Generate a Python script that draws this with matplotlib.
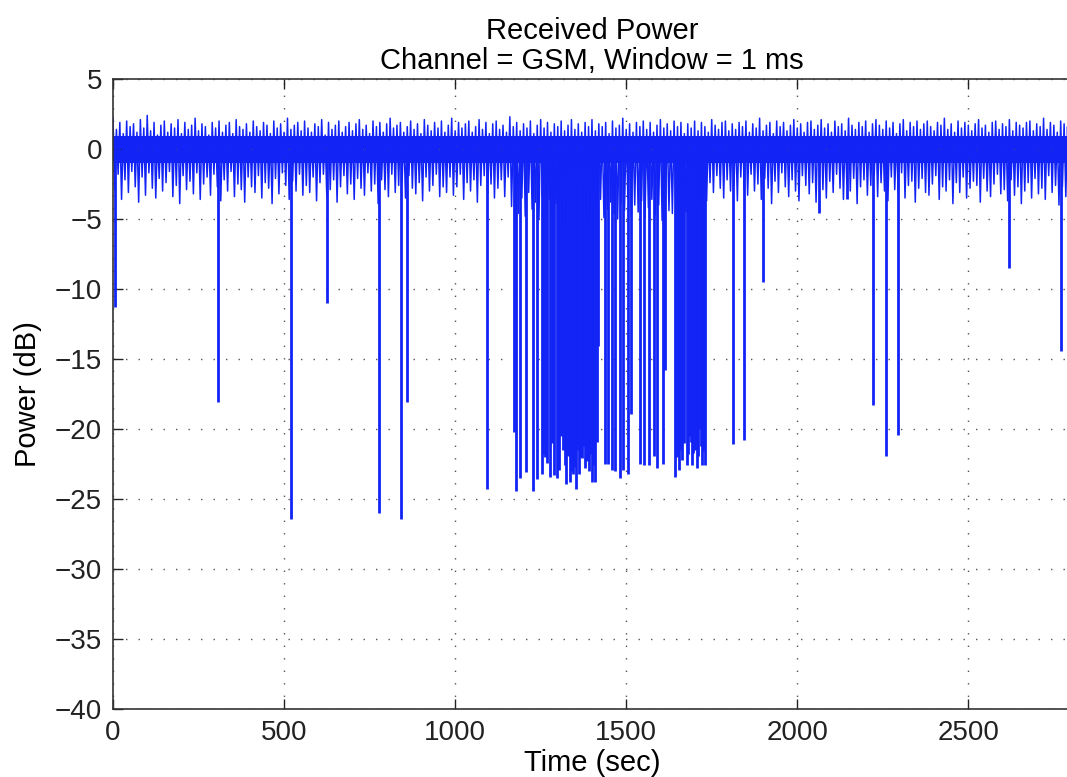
import matplotlib.pyplot as plt
import numpy as np

# -------------------------------
# DATA
# -------------------------------
# noise band: one upward and one downward excursion every 10 s
band_t = np.arange(0, 2800, 10)

band_hi = [
    2.2, 1.4, 1.9, 1.1, 2.0, 1.6, 1.8, 1.2, 2.1, 1.5, 2.4, 1.3, 1.9, 1.0,
    1.7, 2.0, 1.2, 1.8, 1.5, 2.1, 1.1, 1.9, 1.4, 1.7, 2.2, 1.3, 1.8, 1.6,
    1.0, 1.9, 1.5, 2.0, 1.2, 1.7, 1.9, 1.1, 2.1, 1.6, 1.4, 1.8, 1.2, 2.0,
    1.6, 1.3, 1.9, 1.7, 1.1, 2.0, 1.5, 1.8, 1.2, 2.2, 1.4, 1.7, 1.9, 1.3,
    2.0, 1.5, 1.2, 1.8, 1.6, 2.1, 1.0, 1.9, 1.4, 1.7, 2.0, 1.2, 1.6, 1.9,
    1.3, 1.8, 2.1, 1.4, 1.7, 1.1, 2.0, 1.6, 1.9, 1.2, 1.8, 2.2, 1.5, 1.7,
    1.9, 1.2, 1.6, 2.0, 1.4, 1.8, 1.1, 2.1, 1.7, 1.3, 1.9, 1.5, 2.0, 1.2,
    1.7, 2.2, 1.3, 1.9, 1.5, 1.8, 2.0, 1.2, 1.6, 2.1, 1.4, 1.9, 1.1, 1.8,
    2.0, 1.4, 1.7, 1.2, 2.3, 1.6, 1.9, 1.3, 1.8, 1.5, 2.0, 1.1, 1.7, 2.1,
    1.5, 1.9, 1.2, 1.8, 1.6, 2.0, 1.3, 1.7, 2.1, 1.4, 1.8, 1.2, 1.9, 1.6,
    2.1, 1.3, 1.8, 1.6, 1.9, 1.1, 2.0, 1.5, 1.7, 2.2, 1.4, 1.8, 1.2, 1.9,
    1.6, 2.0, 1.4, 1.9, 1.2, 1.7, 2.1, 1.5, 1.8, 1.3, 2.0, 1.6, 1.9, 1.1,
    1.8, 1.5, 2.0, 1.3, 1.9, 1.6, 1.2, 2.1, 1.7, 1.4, 1.9, 2.0, 1.3, 1.8,
    1.4, 1.9, 1.6, 2.0, 1.2, 1.8, 1.5, 2.2, 1.3, 1.7, 1.9, 1.1, 2.0, 1.6,
    1.9, 1.3, 1.7, 2.1, 1.5, 1.8, 1.2, 1.9, 2.0, 1.4, 1.7, 2.1, 1.5, 1.8,
    1.2, 2.0, 1.6, 1.8, 1.3, 2.2, 1.7, 1.4, 1.9, 1.6, 2.0, 1.2, 1.8, 2.1,
    1.7, 1.4, 2.0, 1.5, 1.9, 1.1, 1.8, 2.1, 1.3, 1.9, 1.6, 2.0, 1.4, 1.8,
    2.0, 1.6, 1.3, 1.9, 1.7, 2.2, 1.4, 1.8, 1.2, 2.0, 1.5, 1.9, 1.7, 1.3,
    1.8, 2.1, 1.5, 1.7, 1.2, 1.9, 2.0, 1.4, 1.8, 1.6, 2.1, 1.3, 1.9, 1.7,
    1.5, 1.9, 2.0, 1.3, 1.8, 1.6, 2.2, 1.4, 1.9, 1.7, 1.2, 2.0, 1.8, 1.6,
]

band_lo = [
    -2.9, -1.8, -3.6, -2.2, -3.1, -1.6, -2.7, -3.8, -2.0, -3.3, -1.7, -2.8, -3.5, -2.1,
    -3.0, -2.4, -1.6, -3.4, -2.6, -3.9, -1.9, -2.9, -2.3, -3.2, -1.7, -3.6, -2.5, -2.0,
    -3.3, -1.8, -2.7, -3.7, -2.2, -3.0, -1.6, -3.4, -2.5, -2.9, -3.8, -2.0, -2.7, -3.1,
    -1.9, -3.5, -2.4, -2.8, -3.9, -2.1, -3.2, -1.7, -2.6, -3.6, -2.3, -3.0, -1.8, -3.3,
    -2.6, -3.1, -2.0, -3.7, -2.4, -1.8, -3.4, -2.9, -2.2, -3.8, -2.7, -1.9, -3.2, -2.5,
    -3.6, -2.1, -2.8, -3.3, -1.7, -3.0, -2.5, -3.9, -2.2, -2.9, -3.4, -1.8, -3.1, -2.6,
    -2.3, -3.5, -1.9, -2.8, -3.2, -2.4, -3.7, -2.0, -3.0, -2.6, -1.8, -3.4, -2.7, -3.1,
    -2.0, -3.3, -2.7, -1.8, -3.6, -2.4, -3.0, -2.2, -3.8, -2.6, -1.9, -3.2, -2.5, -3.5,
    -2.8, -2.2, -3.4, -2.0, -4.1, -3.2, -4.6, -3.5, -4.8, -3.1, -4.3, -3.8, -5.0, -3.4,
    -4.5, -3.6, -4.9, -3.9, -4.2, -5.1, -3.7, -4.6, -4.0, -4.8, -3.5, -4.4, -5.0, -3.8,
    -4.7, -4.1, -3.6, -4.9, -4.3, -3.8, -4.6, -5.0, -3.9, -4.4, -3.5, -4.8, -4.0, -4.5,
    -3.7, -4.9, -4.2, -3.6, -4.7, -4.0, -5.1, -3.8, -4.4, -4.6, -3.9, -4.8, -4.1, -4.5,
    -4.3, -3.8, -4.9, -4.0, -4.6, -3.7, -2.4, -3.1, -1.9, -2.8, -3.5, -2.2, -3.0, -2.6,
    -3.7, -2.0, -2.9, -3.3, -1.8, -3.0, -2.5, -3.6, -2.1, -2.8, -3.9, -2.3, -3.1, -1.7,
    -2.7, -3.4, -2.2, -3.0, -3.7, -1.9, -2.6, -3.2, -2.4, -3.8, -2.0, -2.9, -3.5, -2.3,
    -3.1, -1.8, -2.8, -3.6, -2.5, -3.0, -2.1, -3.9, -2.7, -2.2, -3.3, -2.6, -1.9, -3.4,
    -2.4, -3.0, -3.7, -2.0, -2.9, -3.2, -1.7, -3.5, -2.6, -2.3, -3.8, -2.8, -2.1, -3.1,
    -3.3, -2.5, -1.9, -3.6, -2.7, -3.0, -2.2, -3.9, -2.4, -3.1, -2.0, -3.5, -2.8, -2.3,
    -2.6, -3.8, -2.1, -3.0, -3.4, -2.5, -1.8, -3.2, -2.9, -3.7, -2.2, -3.3, -2.7, -3.9,
    -3.0, -2.4, -3.5, -2.1, -3.2, -2.8, -3.6, -1.9, -3.1, -2.6, -4.0, -2.7, -3.4, -2.5,
]

# solid core of the band (dB)
core_lo, core_hi = -1.0, 0.9

# deep fades: time (sec) and depth (dB)
dip_t = [
    5, 307, 521, 626, 778, 842, 860, 1093,
    1172, 1179, 1191, 1207, 1228, 1240, 1253, 1263, 1278, 1290, 1297, 1305,
    1315, 1325, 1336, 1346, 1354, 1361, 1370, 1380, 1390, 1400, 1409, 1419,
    1439, 1448, 1458, 1468, 1482, 1492, 1504, 1514, 1539, 1553, 1568, 1580,
    1590, 1607, 1614, 1643, 1653, 1663, 1670, 1677, 1685, 1692, 1700, 1707,
    1714, 1721, 1729,
    1813, 1845, 1901, 2064, 2146, 2222, 2260, 2295, 2620, 2772,
    # packed fades filling the two dense bursts
    1258, 1270, 1284, 1301, 1310, 1320, 1330, 1341, 1350, 1357, 1365,
    1375, 1385, 1395, 1404, 1414,
    1648, 1658, 1681, 1689, 1696, 1703, 1710, 1718, 1725,
]
dip_db = [
    -11.3, -18.1, -26.4, -11.0, -26.0, -26.4, -18.1, -24.3,
    -20.2, -24.4, -23.5, -23.1, -24.4, -23.6, -23.2, -22.0, -23.4, -23.3, -23.5, -22.9,
    -21.5, -23.9, -23.8, -23.2, -24.3, -23.2, -22.1, -22.8, -23.0, -23.8, -23.8, -14.1,
    -22.5, -22.5, -22.9, -23.0, -23.5, -22.9, -23.2, -18.9, -22.5, -22.6, -22.6, -21.9,
    -22.8, -22.5, -15.8, -23.4, -22.9, -22.2, -21.0, -22.6, -20.5, -22.6, -21.5, -22.8,
    -20.0, -22.6, -22.6,
    -21.1, -20.8, -9.5, -4.6, -3.6, -18.3, -21.9, -20.4, -8.5, -14.4,
    -21.8, -22.4, -21.0, -22.0, -20.5, -22.6, -21.9, -23.0, -22.7, -21.5, -22.0,
    -21.2, -22.3, -21.8, -22.6, -20.9,
    -22.0, -21.5, -21.8, -20.9, -21.7, -20.8, -21.9, -21.2, -21.6,
]

x_ticks = [0, 500, 1000, 1500, 2000, 2500]
y_ticks = [5, 0, -5, -10, -15, -20, -25, -30, -35, -40]

# -------------------------------
# PLOT
# -------------------------------
plt.rcParams['font.family'] = ['Liberation Sans', 'DejaVu Sans']
plt.rcParams['axes.unicode_minus'] = True

blue = '#1224f5'

fig = plt.figure(figsize=(10.67, 7.77), dpi=100)
ax = fig.add_axes([0.1059, 0.0875, 0.8978, 0.8108])

# band drawn as one zig-zag trace, hi -> lo -> hi ...
zz_t = np.column_stack([band_t, band_t + 5]).ravel()
zz_db = np.column_stack([band_hi, band_lo]).ravel()
ax.fill_between(band_t, core_lo, core_hi, color=blue, lw=0)
ax.plot(zz_t, zz_db, color=blue, lw=1.1)
ax.vlines(dip_t, 0, dip_db, color=blue, lw=2.0)

ax.set_xlim(0, 2800)
ax.set_ylim(-40, 5)
ax.set_xticks(x_ticks)
ax.set_yticks(y_ticks)

ax.grid(True, color='#555555', linestyle=(0, (1, 8)), linewidth=1.0)
ax.tick_params(direction='in', length=7, width=1, labelsize=20,
               top=True, right=False, pad=8, colors='#222222')
for s in ax.spines.values():
    s.set_color('#333333')
    s.set_linewidth(1.2)
ax.spines['right'].set_visible(False)

ax.set_xlabel('Time (sec)', fontsize=21, labelpad=2)
ax.set_ylabel('Power (dB)', fontsize=21, labelpad=9)
ax.set_title('Received Power\nChannel = GSM, Window = 1 ms', fontsize=21,
             pad=7, linespacing=1.1)

plt.savefig('out.png', dpi=100)
plt.close()
